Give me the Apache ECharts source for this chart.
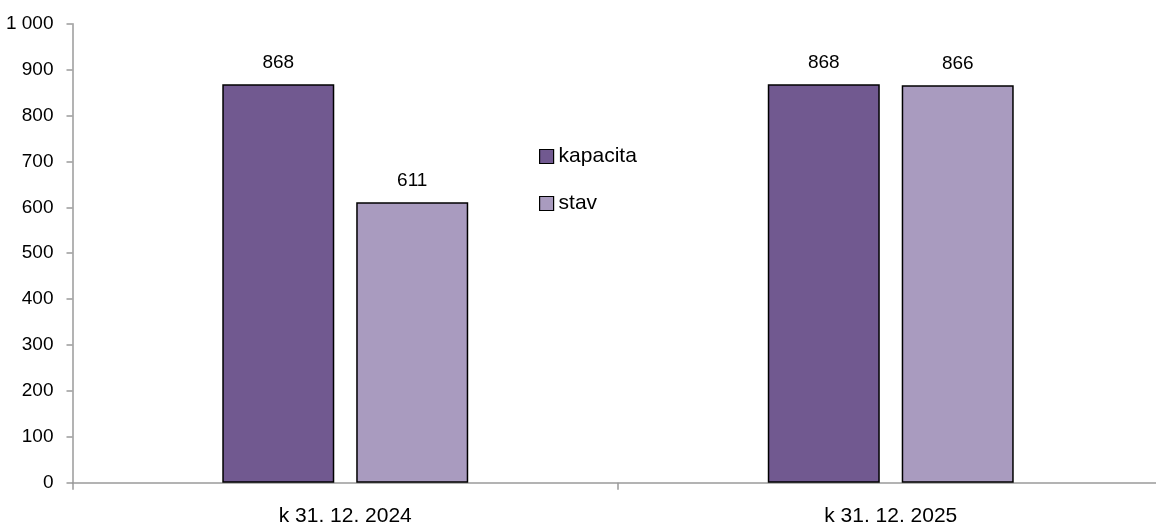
<!DOCTYPE html>
<html><head><meta charset="utf-8">
<script src="https://cdn.jsdelivr.net/npm/echarts@6/dist/echarts.min.js"></script>
<style>html,body{margin:0;padding:0;background:#fff}#c{width:1156px;height:529px}</style>
</head><body><div id="c"></div>
<script>
const categories = ['k 31. 12. 2024', 'k 31. 12. 2025'];
const kapacita = [868, 868];
const stav = [611, 866];
const yTicks = [0, 100, 200, 300, 400, 500, 600, 700, 800, 900, 1000];

const FONT = '"Liberation Sans", Arial, sans-serif';
const chart = echarts.init(document.getElementById('c'), null, {renderer: 'canvas'});
const fmt = v => String(v).replace(/\B(?=(\d{3})+(?!\d))/g, ' ');
chart.setOption({
  animation: false,
  textStyle: {fontFamily: FONT},
  grid: {left: 72.5, top: 23.7, width: 1091, height: 459, containLabel: false, outerBoundsMode: 'none'},
  legend: {
    left: 534, top: 141, orient: 'vertical', itemGap: 26,
    itemWidth: 14, itemHeight: 14, icon: 'rect',
    itemStyle: {borderColor: '#000', borderWidth: 1.2},
    textStyle: {fontFamily: FONT, fontSize: 21, color: '#000'},
    data: ['kapacita', 'stav']
  },
  xAxis: {
    type: 'category', data: categories,
    axisLine: {lineStyle: {color: '#9a9a9a', width: 1.5}},
    axisTick: {show: true, length: 7, alignWithLabel: false, lineStyle: {color: '#9a9a9a', width: 1.5}},
    axisLabel: {fontFamily: FONT, fontSize: 21, color: '#000', margin: 23}
  },
  yAxis: {
    type: 'value', min: 0, max: 1000, interval: 100,
    splitLine: {show: false},
    axisLine: {show: true, lineStyle: {color: '#9a9a9a', width: 1.5}},
    axisTick: {show: true, length: 6, lineStyle: {color: '#9a9a9a', width: 1.5}},
    axisLabel: {fontFamily: FONT, fontSize: 19, color: '#000', margin: 19,
      formatter: v => yTicks.includes(v) ? fmt(v) : ''}
  },
  series: [
    {name: 'kapacita', type: 'bar', data: kapacita, barWidth: 112, barGap: '19.6%',
     itemStyle: {color: '#715990', borderColor: '#000', borderWidth: 1.5},
     label: {show: true, position: 'top', distance: 12, fontFamily: FONT, fontSize: 19, color: '#000'}},
    {name: 'stav', type: 'bar', data: stav, barWidth: 112,
     itemStyle: {color: '#a99bbf', borderColor: '#000', borderWidth: 1.5},
     label: {show: true, position: 'top', distance: 12, fontFamily: FONT, fontSize: 19, color: '#000'}}
  ]
});
</script></body></html>
